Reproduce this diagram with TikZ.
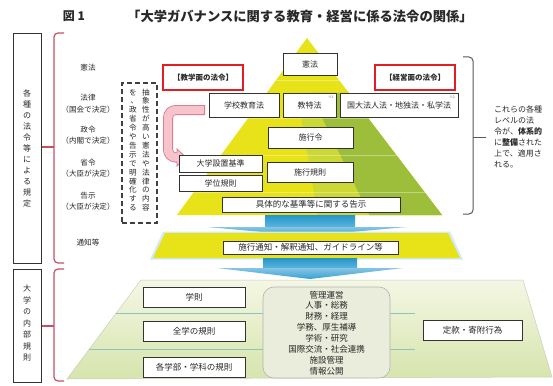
\documentclass[tikz,border=0pt]{standalone}
\usepackage{fontspec}
\setmainfont{Noto Sans CJK JP}
\definecolor{pyel}{RGB}{232,226,24}
\definecolor{pgrn}{RGB}{156,190,58}
\definecolor{pmix}{RGB}{204,216,52}
\definecolor{bblue}{RGB}{34,150,205}
\definecolor{lblue}{RGB}{120,200,232}
\definecolor{redb}{RGB}{226,30,36}
\definecolor{bracec}{RGB}{196,80,100}
\definecolor{pinkl}{RGB}{248,196,204}
\definecolor{pinkd}{RGB}{214,118,140}
\definecolor{trapt}{RGB}{244,247,228}
\definecolor{trapb}{RGB}{214,228,172}
\definecolor{tealine}{RGB}{140,196,190}
\definecolor{txt}{RGB}{40,40,40}
\tikzset{
  box/.style={draw=black!80, fill=white, line width=0.9pt, inner sep=0pt, text=txt,
    font=\fontsize{8}{9}\selectfont},
  redbox/.style={draw=redb, line width=1.4pt, inner sep=0pt, text=txt,
    font=\bfseries\fontsize{7.5}{9}\selectfont},
  lbl/.style={text=txt, font=\fontsize{7.6}{9}\selectfont, inner sep=0pt},
  vcol/.style={text=txt, align=center, inner sep=0pt, font=\fontsize{8}{11}\selectfont},
  bracepath/.style={draw=bracec, line width=1.2pt, rounded corners=4pt},
  sup/.style={font=\fontsize{3.5}{4}\selectfont, text=black!60, inner sep=0pt}
}
\begin{document}
\begin{tikzpicture}[x=1pt,y=-1pt]
\fill[white] (0,0) rectangle (553,385);
\useasboundingbox (0,0) rectangle (553,385);

% title
\node[font=\bfseries\fontsize{12}{13}\selectfont, text=txt, inner sep=0pt] (fig) at (74,16) {図 1};
\node[font=\bfseries\fontsize{13.3}{14}\selectfont, text=txt, anchor=west, inner sep=0pt] (title) at (127,16)
  {「大学ガバナンスに関する教育・経営に係る法令の関係」};

% left boxes
\node[draw=black!80, line width=0.9pt, minimum width=28pt, minimum height=230pt, inner sep=0pt] (lb1) at (27,148) {};
\node[vcol] (lb1t) at (27,148) {各\\種\\の\\法\\令\\等\\に\\よ\\る\\規\\定};
\node[draw=black!80, line width=0.9pt, minimum width=28pt, minimum height=113pt, inner sep=0pt] (lb2) at (27,325.5) {};
\node[vcol, font=\fontsize{8}{11.5}\selectfont] (lb2t) at (27,323) {大\\学\\の\\内\\部\\規\\則};

% left braces
\coordinate (b1t) at (64,33); \coordinate (b1b) at (64,263); \coordinate (b1m) at (42,147);
\draw[bracepath] (b1t) -- (54,33) -- (54,263) -- (b1b);
\draw[bracepath] (b1m) -- (54,147);
\coordinate (b2t) at (64,269); \coordinate (b2b) at (64,381); \coordinate (b2m) at (42,326);
\draw[bracepath] (b2t) -- (54,269) -- (54,381) -- (b2b);
\draw[bracepath] (b2m) -- (54,326);

% left labels
\node[lbl] (l1) at (88,68) {憲法};
\node[lbl] (l2) at (88,98) {法律};
\node[lbl] (l2b) at (88,110) {（国会で決定）};
\node[lbl] (l3) at (88,130) {政令};
\node[lbl] (l3b) at (88,141) {（内閣で決定）};
\node[lbl] (l4) at (88,163) {省令};
\node[lbl] (l4b) at (88,174) {（大臣が決定）};
\node[lbl] (l5) at (88,196) {告示};
\node[lbl] (l5b) at (88,207) {（大臣が決定）};
\node[lbl] (l6) at (88,243) {通知等};

% dashed box
\node[draw=black!75, line width=1.2pt, dash pattern=on 5pt off 3pt, minimum width=35pt, minimum height=140pt, inner sep=0pt] (dbox) at (139.5,153) {};
\node[vcol, font=\fontsize{7.6}{8.9}\selectfont] (dcol1) at (146,150) {抽\\象\\性\\が\\高\\い\\憲\\法\\や\\法\\律\\の\\内\\容};
\node[vcol, font=\fontsize{7.6}{8.9}\selectfont] (dcol2) at (133,150) {を\\\hspace*{0.4em}、\\政\\省\\令\\や\\告\\示\\で\\明\\確\\化\\す\\る};

% pyramid
\coordinate (apex) at (307,38); \coordinate (bl) at (177,215); \coordinate (br) at (442,215);
\fill[pyel] (apex) -- (br) -- (bl) -- cycle;
\begin{scope}
  \clip (apex) -- (br) -- (bl) -- cycle;
  \fill[pmix] (297,93) -- (600,93) -- (600,216) -- (318,216) -- cycle;
  \fill[pgrn] (310,93) -- (600,93) -- (600,216) -- (370,216) -- cycle;
  \foreach \yy in {80,118,155,192} \draw[white, opacity=0.35, line width=0.7pt] (150,\yy) -- (460,\yy);
\end{scope}

% blue arrow 1
\shade[top color=bblue, bottom color=bblue!70] (265,215) rectangle (355,228);
\shade[top color=bblue!55, bottom color=bblue!90] (207,227) -- (407,227) -- (307,236) -- cycle;

% yellow band
\fill[lblue!35] (163,231.5) -- (450,231.5) -- (463,259.5) -- (150,259.5) -- cycle;
\fill[pyel] (165,233) -- (448,233) -- (460,258) -- (153,258) -- cycle;

% blue arrow 2
\shade[top color=bblue, bottom color=bblue!70] (263,258) rectangle (357,269);
\shade[top color=bblue!55, bottom color=bblue!90] (217,268) -- (403,268) -- (310,279) -- cycle;

% bottom trapezoid
\shade[top color=trapt, bottom color=trapb] (141,280) -- (523,280) -- (552,377) -- (67,379) -- cycle;
\draw[trapb!70!black!50, line width=0.5pt] (141,280) -- (523,280) -- (552,377) -- (67,379) -- cycle;
\draw[tealine, line width=0.7pt] (116,313) -- (415,313);
\draw[tealine, line width=0.7pt] (89,349) -- (415,349);

% pink curved arrow
\coordinate (pa0) at (205,110); \coordinate (pa1) at (168,110); \coordinate (pa2) at (168,157.5); \coordinate (pa3) at (178,157.5);
\draw[pinkd, line width=10pt, rounded corners=8pt] (pa0) -- (pa1) -- (pa2) -- (pa3);
\filldraw[fill=pinkl, draw=pinkd, line width=0.8pt] (177,149) -- (186,157.5) -- (177,166) -- cycle;
\draw[pinkl, line width=8.4pt, rounded corners=8pt] (204.2,110) -- (pa1) -- (pa2) -- (178.8,157.5);

% red labels
\node[redbox, minimum width=80pt, minimum height=25pt] (kyogaku) at (203,77.5) {【教学面の法令】};
\node[redbox, minimum width=80pt, minimum height=25pt] (keiei) at (415,77.5) {【経営面の法令】};

% pyramid boxes
\node[box, minimum width=54pt, minimum height=22pt] (kenpo) at (310,64) {憲法};
\node[box, minimum width=70pt, minimum height=24pt] (gakko) at (244,105) {学校教育法};
\node[box, minimum width=53pt, minimum height=24pt] (kyotoku) at (309.5,105) {教特法};
\node[sup] (sup1) at (331,97) {※1};
\node[box, minimum width=118pt, minimum height=24pt] (kokudai) at (399,105) {国大法人法・地独法・私学法};
\node[sup] (sup2) at (452,97) {※2};
\node[box, minimum width=85pt, minimum height=21pt] (sekorei) at (310.5,137.5) {施行令};
\node[box, minimum width=83pt, minimum height=17pt] (setchi) at (220.5,163.5) {大学設置基準};
\node[box, minimum width=83pt, minimum height=16pt] (gakui) at (220.5,183) {学位規則};
\node[box, minimum width=86pt, minimum height=20pt] (sekokisoku) at (310,172) {施行規則};
\node[box, minimum width=178pt, minimum height=15pt, font=\fontsize{8.5}{9}\selectfont] (kokuji) at (311,204.5) {具体的な基準等に関する告示};
\node[box, minimum width=175pt, minimum height=13pt, font=\fontsize{8.5}{9}\selectfont] (tsuchi) at (310.5,247.5) {施行通知・解釈通知、ガイドライン等};

% bottom boxes
\node[box, minimum width=102pt, minimum height=20pt, font=\fontsize{8.5}{9}\selectfont] (gakusoku) at (194,297) {学則};
\node[box, minimum width=102pt, minimum height=20pt, font=\fontsize{8.5}{9}\selectfont] (zengaku) at (194,331) {全学の規則};
\node[box, minimum width=102pt, minimum height=20pt, font=\fontsize{8.5}{9}\selectfont] (kakugakubu) at (194,367) {各学部・学科の規則};
\node[draw=black!30, fill=black!4!trapt, line width=0.6pt, rounded corners=11pt, minimum width=127pt, minimum height=91pt, inner sep=0pt] (admin) at (326.5,332.5) {};
\node[align=center, text=txt, font=\fontsize{8.5}{10.9}\selectfont, inner sep=0pt] (admint) at (326.5,333)
  {管理運営\\人事・総務\\財務・経理\\学務、厚生補導\\学術・研究\\国際交流・社会連携\\施設管理\\情報公開};
\node[box, minimum width=99pt, minimum height=20pt, font=\fontsize{8.5}{9}\selectfont] (teikan) at (472.5,330) {定款・寄附行為};

% right brace and text
\coordinate (rbt) at (463,57); \coordinate (rbb) at (463,214); \coordinate (rbm) at (486,137);
\draw[black!65, line width=1pt, rounded corners=4pt] (rbt) -- (473,57) -- (473,214) -- (rbb);
\draw[black!65, line width=1pt] (473,137) -- (rbm);
\node[anchor=north west, align=left, text=txt, font=\fontsize{8}{11}\selectfont, inner sep=0pt] (rtext) at (494,106)
  {これらの各種\\レベルの法\\令が、\textbf{体系的}\\に\textbf{整備}された\\上で、適用さ\\れる。};
\end{tikzpicture}
\end{document}
